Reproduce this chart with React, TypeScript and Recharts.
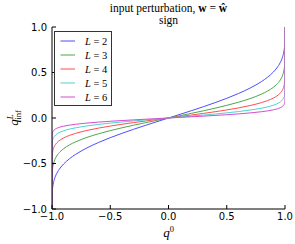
import React from 'react';
import { LineChart, Line, XAxis, YAxis } from 'recharts';

// correlation at layer 0 (x) and at layer L (one array per depth)
const Q0 = [-1, -0.9999, -0.999, -0.995, -0.99, -0.98, -0.96, -0.93, -0.9, -0.85, -0.8, -0.7, -0.6, -0.5, -0.4, -0.3, -0.2, -0.1, 0, 0.1, 0.2, 0.3, 0.4, 0.5, 0.6, 0.7, 0.8, 0.85, 0.9, 0.93, 0.96, 0.98, 0.99, 0.995, 0.999, 0.9999, 1];
const L2 = [-1, -0.9145, -0.8477, -0.7715, -0.7276, -0.6749, -0.6113, -0.55, -0.5053, -0.4478, -0.402, -0.3287, -0.2688, -0.2163, -0.1688, -0.1243, -0.0819, -0.0406, 0, 0.0406, 0.0819, 0.1243, 0.1688, 0.2163, 0.2688, 0.3287, 0.402, 0.4478, 0.5053, 0.55, 0.6113, 0.6749, 0.7276, 0.7715, 0.8477, 0.9145, 1];
const L3 = [-1, -0.7346, -0.6441, -0.561, -0.5187, -0.4717, -0.4188, -0.3708, -0.3372, -0.2956, -0.2634, -0.2132, -0.1732, -0.1388, -0.108, -0.0793, -0.0522, -0.0259, 0, 0.0259, 0.0522, 0.0793, 0.108, 0.1388, 0.1732, 0.2132, 0.2634, 0.2956, 0.3372, 0.3708, 0.4188, 0.4717, 0.5187, 0.561, 0.6441, 0.7346, 1];
const L4 = [-1, -0.5252, -0.4456, -0.3792, -0.3472, -0.3128, -0.2751, -0.2419, -0.219, -0.191, -0.1697, -0.1368, -0.1108, -0.0886, -0.0689, -0.0505, -0.0332, -0.0165, 0, 0.0165, 0.0332, 0.0505, 0.0689, 0.0886, 0.1108, 0.1368, 0.1697, 0.191, 0.219, 0.2419, 0.2751, 0.3128, 0.3472, 0.3792, 0.4456, 0.5252, 1];
const L5 = [-1, -0.3521, -0.2941, -0.2476, -0.2257, -0.2026, -0.1774, -0.1555, -0.1405, -0.1224, -0.1085, -0.0873, -0.0707, -0.0565, -0.0439, -0.0322, -0.0212, -0.0105, 0, 0.0105, 0.0212, 0.0322, 0.0439, 0.0565, 0.0707, 0.0873, 0.1085, 0.1224, 0.1405, 0.1555, 0.1774, 0.2026, 0.2257, 0.2476, 0.2941, 0.3521, 1];
const L6 = [-1, -0.229, -0.19, -0.1593, -0.145, -0.1299, -0.1135, -0.0994, -0.0898, -0.0781, -0.0692, -0.0557, -0.0451, -0.036, -0.028, -0.0205, -0.0135, -0.0067, 0, 0.0067, 0.0135, 0.0205, 0.028, 0.036, 0.0451, 0.0557, 0.0692, 0.0781, 0.0898, 0.0994, 0.1135, 0.1299, 0.145, 0.1593, 0.19, 0.229, 1];

const DEPTHS = ['2', '3', '4', '5', '6'];
const COLORS = ['#4d4dff', '#4da64d', '#ff4d4d', '#4dd3d3', '#d34dd3'];
const X_TICKS = [-1, -0.5, 0, 0.5, 1];
const Y_TICKS = [-1, -0.5, 0, 0.5, 1];

const SERIES = [L2, L3, L4, L5, L6];
const data = Q0.map((q, i) => {
  const row: Record<string, number> = { q0: q };
  SERIES.forEach((s, j) => {
    row['L' + DEPTHS[j]] = s[i];
  });
  return row;
});

const fmt = (v: number) => (v < 0 ? '\u2212' : '') + Math.abs(v).toFixed(1);
const tickFont = { fill: '#000', fontSize: 10, fontFamily: 'DejaVu Sans' };
const serif = 'Liberation Serif';

export default function App() {
  return (
    <div style={{ position: 'absolute', left: 0, top: 0, width: 295, height: 244, background: '#fff' }}>
      <LineChart width={295} height={244} data={data} margin={{ top: 27, right: 10, bottom: 0, left: 0 }}>
        <XAxis xAxisId="b" dataKey="q0" type="number" domain={[-1, 1]} ticks={X_TICKS} tickFormatter={fmt}
          height={35} tickSize={-4} tickMargin={8} stroke="#000" tick={tickFont} allowDataOverflow />
        <XAxis xAxisId="t" dataKey="q0" type="number" orientation="top" domain={[-1, 1]} ticks={X_TICKS}
          height={0} tickSize={-4} tick={false} stroke="#000" allowDataOverflow />
        <YAxis yAxisId="l" type="number" domain={[-1, 1]} ticks={Y_TICKS} tickFormatter={fmt}
          width={52} tickSize={-4} tickMargin={9} stroke="#000" tick={tickFont} allowDataOverflow />
        <YAxis yAxisId="r" type="number" orientation="right" domain={[-1, 1]} ticks={Y_TICKS}
          width={0} tickSize={-4} tick={false} stroke="#000" allowDataOverflow />
        {DEPTHS.map((d, i) => (
          <Line key={d} xAxisId="b" yAxisId="l" type="monotone" dataKey={'L' + d} stroke={COLORS[i]}
            strokeWidth={1} dot={false} activeDot={false} isAnimationActive={false} />
        ))}
      </LineChart>
      <svg width={295} height={244} style={{ position: 'absolute', left: 0, top: 0, pointerEvents: 'none' }}>
        <text x={168.5} y={11.5} textAnchor="middle" fontFamily={serif} fontSize={11.5}>
          input perturbation, <tspan fontWeight="bold">w</tspan> = <tspan fontWeight="bold">ŵ</tspan>
        </text>
        <text x={168.5} y={23.5} textAnchor="middle" fontFamily={serif} fontSize={11.5}>sign</text>
        <text x={168.5} y={237} textAnchor="middle" fontFamily={serif} fontSize={13}>
          <tspan fontStyle="italic">q</tspan>
          <tspan fontSize={8.5} dy={-5}>0</tspan>
        </text>
        <text transform="translate(18,118) rotate(-90)" textAnchor="middle" fontFamily={serif} fontSize={13}>
          <tspan fontStyle="italic">q</tspan>
          <tspan fontSize={8.5} dy={-5} fontStyle="italic">L</tspan>
          <tspan fontSize={8.5} dx={-5} dy={8}>inf</tspan>
        </text>
        <rect x={54.5} y={31.5} width={57} height={74} fill="#fff" stroke="#333" strokeWidth={1} />
        {DEPTHS.map((d, i) => (
          <g key={d}>
            <line x1={60.5} x2={75} y1={41 + i * 14} y2={41 + i * 14} stroke={COLORS[i]} strokeWidth={1} />
            <text x={85} y={44.5 + i * 14} fontFamily={serif} fontSize={10.5}>
              <tspan fontStyle="italic">L</tspan> = {d}
            </text>
          </g>
        ))}
      </svg>
    </div>
  );
}
